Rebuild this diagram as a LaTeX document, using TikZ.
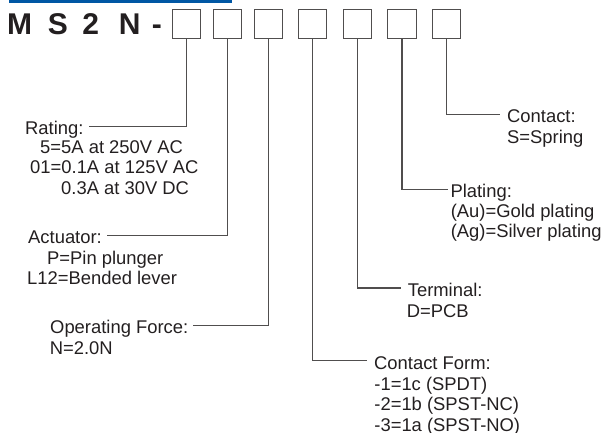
\documentclass[tikz,border=0pt]{standalone}
\usepackage{fontspec}
\setmainfont{Liberation Sans}
\usetikzlibrary{positioning}
\definecolor{inkgray}{RGB}{35,31,32}
\definecolor{rulegray}{RGB}{80,78,78}
\definecolor{headblue}{RGB}{0,87,164}

\begin{document}
\begin{tikzpicture}[x=1pt,y=-1pt,inkgray]
    \tikzstyle{slot}=[draw=rulegray, line width=1.2pt, minimum size=28.4pt, inner sep=0pt]
    \tikzstyle{wire}=[draw=rulegray, line width=1.1pt]
    \tikzstyle{title}=[anchor=base west, inner sep=0pt, font=\bfseries\fontsize{30}{30}\selectfont]
    \tikzstyle{head}=[anchor=base west, inner ysep=0pt, inner xsep=5pt, text height=17.4pt, text depth=0pt, font=\fontsize{18.4}{20.5}\selectfont]
    \tikzstyle{body}=[anchor=base west, inner sep=0pt, align=left, font=\fontsize{18.4}{20.5}\selectfont]

    \useasboundingbox (0,0) rectangle (606,433);

    \draw[headblue, line width=2.2pt] (9,1.6) -- (232,1.6);
    \node[title] (code) at (6.8,34.3) {M\hspace{16pt}S\hspace{14.3pt}2\hspace{20pt}N\hspace{11.3pt}-};

	\foreach \x [count=\i] in {186.5,227.5,268.5,312.5,357.5,402,446.3}{
		\node[slot] (B-\i) at (\x,24) {};
	}

%   left side (body nodes sit on their last baseline)
	\node[head] (rating) at (20,135) {Rating:};
	\node[body] (rating-b) at (30,194.5) {\hspace*{10pt}5=5A at 250V AC\\01=0.1A at 125V AC\\\hspace*{31pt}0.3A at 30V DC};
	\node[head] (actuator) at (23,244) {Actuator:};
	\node[body] (actuator-b) at (27,285) {\hspace*{20pt}P=Pin plunger\\L12=Bended lever};
	\node[head] (force) at (45,334) {Operating Force:};
	\node[body] (force-b) at (49.6,355) {N=2.0N};

%   right side
	\node[head, inner xsep=7pt] (contact) at (500,123) {Contact:};
	\node[body] (contact-b) at (507,144) {S=Spring};
	\node[head, inner xsep=2.5pt] (plating) at (447.8,198) {Plating:};
	\node[body] (plating-b) at (450.6,237.5) {(Au)=Gold plating\\(Ag)=Silver plating};
	\node[head, inner xsep=7pt] (terminal) at (400.6,296.7) {Terminal:};
	\node[body] (terminal-b) at (406.6,317.3) {D=PCB};
	\node[head, inner xsep=7pt] (cform) at (367,369.3) {Contact Form:};
	\node[body] (cform-b) at (374.2,431) {-1=1c (SPDT)\\-2=1b (SPST-NC)\\-3=1a (SPST-NO)};

	\draw[wire] (B-1.south) |- (rating.east);
	\draw[wire] (B-2.south) |- (actuator.east);
	\draw[wire] (B-3.south) |- (force.east);
	\draw[wire] (B-4.south) |- (cform.west);
	\draw[wire] (B-5.south) |- (terminal.west);
	\draw[wire] (B-6.south) |- (plating.west);
	\draw[wire] (B-7.south) |- (contact.west);
\end{tikzpicture}
\end{document}
